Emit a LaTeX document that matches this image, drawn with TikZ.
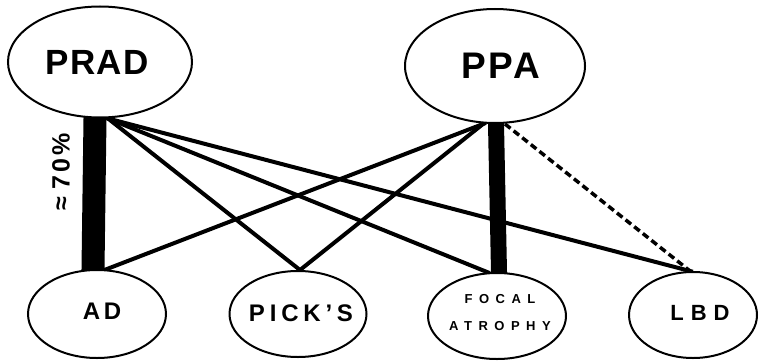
\documentclass[tikz,border=0pt]{standalone}
\usepackage{fontspec}
\setmainfont{Liberation Sans}
\usetikzlibrary{shapes.geometric}
\pgfdeclarelayer{bg}
\pgfsetlayers{bg,main}
\begin{document}
\begin{tikzpicture}[x=1pt,y=-1pt,
  ell/.style={draw, ellipse, line width=2pt, fill=white, inner sep=0pt},
  lbl/.style 2 args={font=\bfseries\fontsize{#1}{#1}\selectfont\addfontfeatures{LetterSpace=#2}, inner sep=0pt},
  conn/.style={line width=4pt, shorten <=-3pt, shorten >=-3pt},
  barline/.style={line width=#1, shorten <=-5pt, shorten >=-5pt},
  dashconn/.style={line width=3.5pt, dash pattern=on 7pt off 4pt, shorten >=-2pt}]
\useasboundingbox (0,0) rectangle (759,361);
% upper nodes
\node[ell, minimum width=184pt, minimum height=111pt,
  label={[lbl={35}{4}, name=pradtxt, xshift=-3pt]center:PRAD}] (prad) at (100,62) {};
\node[ell, minimum width=180pt, minimum height=114pt,
  label={[lbl={37}{8}, name=ppatxt, xshift=6pt]center:PPA}] (ppa) at (495,66) {};
% lower nodes
\node[ell, minimum width=138pt, minimum height=88pt,
  label={[lbl={24}{15}, name=adtxt, xshift=5pt, yshift=2.5pt]center:AD}] (ad) at (97,314) {};
\node[ell, minimum width=137pt, minimum height=86pt,
  label={[lbl={24}{20}, name=pickstxt, xshift=3pt, yshift=1pt]center:PICK'S}] (picks) at (298,314) {};
\node[ell, minimum width=138pt, minimum height=86pt,
  label={[font=\bfseries\fontsize{13}{27}\selectfont\addfontfeatures{LetterSpace=50}, inner sep=0pt, align=center, name=focaltxt, xshift=3pt, yshift=3.5pt]center:FOCAL\\ATROPHY}] (focal) at (497,316) {};
\node[ell, minimum width=128pt, minimum height=86pt,
  label={[lbl={22}{32}, name=lbdtxt, xshift=7pt, yshift=2.5pt]center:LBD}] (lbd) at (693,315) {};
% percentage label
\node[lbl={25}{12}, rotate=90] (pct) at (61,172) {≈\hspace{7pt}70\%};
% connectors
\begin{pgfonlayer}{bg}
  \draw[barline=23pt] ([xshift=-5pt]prad.south) -- ([xshift=-4pt]ad.north);
  \draw[conn] ([xshift=8pt]prad.south) -- ([xshift=2pt]picks.north);
  \draw[conn] ([xshift=8pt]prad.south) -- ([xshift=-10pt]focal.north);
  \draw[conn] ([xshift=8pt]prad.south) -- ([xshift=-3pt]lbd.north);
  \draw[conn] ([xshift=-12pt]ppa.south) -- ([xshift=10pt]ad.north);
  \draw[conn] ([xshift=-12pt]ppa.south) -- ([xshift=2pt]picks.north);
  \draw[dashconn] ([xshift=10pt]ppa.south) -- ([xshift=-3pt]lbd.north);
  \draw[barline=16pt] ([xshift=1pt]ppa.south) -- ([xshift=2pt]focal.north);
\end{pgfonlayer}
\end{tikzpicture}
\end{document}
